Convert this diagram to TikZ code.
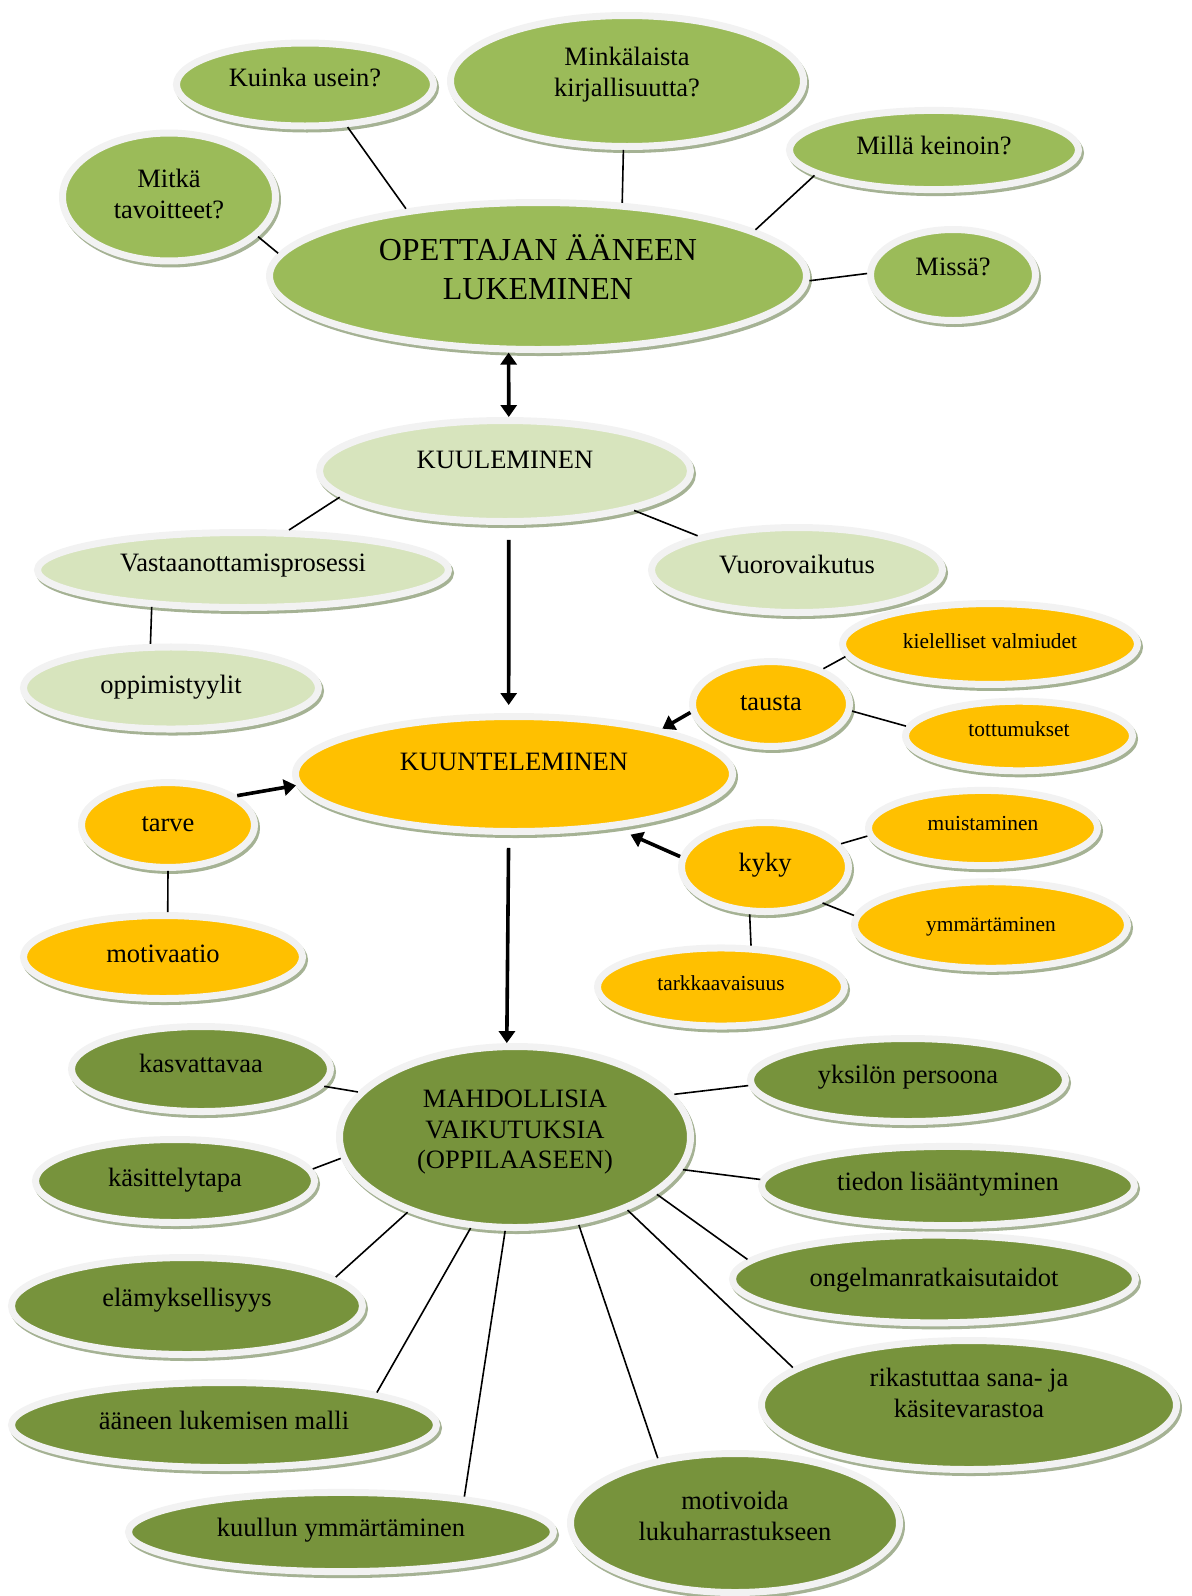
\documentclass[tikz,border=0pt]{standalone}
\usepackage{fontspec}
\setmainfont{Liberation Serif}
\usetikzlibrary{shapes.geometric, arrows.meta}
\definecolor{olivelt}{RGB}{155, 187, 89}
\definecolor{olivepale}{RGB}{215, 228, 189}
\definecolor{goldy}{RGB}{255, 192, 0}
\definecolor{olivedk}{RGB}{119, 147, 60}
\definecolor{rimgray}{RGB}{242, 242, 242}
\definecolor{shadegreen}{RGB}{165, 178, 148}

\tikzset{
  bubble/.style={ellipse, draw=rimgray, line width=3.5pt, inner sep=0pt, align=center,
    preaction={fill=shadegreen, draw=shadegreen, transform canvas={shift={(1pt,-1.5pt)}}}},
  rx/.style={minimum width=#1pt-3.5pt},
  ry/.style={minimum height=#1pt-3.5pt},
  lift/.style={text height=#1pt, text depth=12pt},
  topic/.style={bubble, fill=olivelt, font=\fontsize{16}{19.35}\selectfont},
  ask/.style={bubble, fill=olivelt, font=\fontsize{13.25}{15.25}\selectfont},
  hear/.style={bubble, fill=olivepale, font=\fontsize{13.25}{15.25}\selectfont},
  listen/.style={bubble, fill=goldy, font=\fontsize{13.25}{15.25}\selectfont},
  minor/.style={bubble, fill=goldy, font=\fontsize{10.7}{12.3}\selectfont},
  effect/.style={bubble, fill=olivedk, font=\fontsize{13.25}{15.25}\selectfont},
  link/.style={line width=0.8pt},
  arr/.style={line width=1.8pt, -{Triangle[length=6pt,width=8pt]}},
}

\begin{document}
\begin{tikzpicture}[x=0.5pt, y=-0.5pt]
\useasboundingbox (0,0) rectangle (1192,1596);

% Teacher reading aloud and its questions
\node[ask, rx=132, ry=45, lift=14] (kuinka) at (305,84.5) {Kuinka usein?};
\node[ask, rx=180, ry=69, lift=27.25] (kirjallisuus) at (627,81) {Minkälaista\\kirjallisuutta?};
\node[ask, rx=148, ry=43, lift=16] (keinot) at (934,150) {Millä keinoin?};
\node[ask, rx=110, ry=61, lift=33.25] (tavoitteet) at (169,197) {Mitkä\\tavoitteet?};
\node[topic, rx=272, ry=77, lift=35] (lukeminen) at (538,276) {OPETTAJAN ÄÄNEEN\\LUKEMINEN};
\node[ask, rx=86, ry=49, lift=12] (missa) at (953,275) {Missä?};

% Hearing
\node[hear, rx=189, ry=54, lift=9] (kuuleminen) at (505,471) {KUULEMINEN};
\node[hear, rx=209, ry=41, lift=13] (vastaanotto) at (243,570) {Vastaanottamisprosessi};
\node[hear, rx=149, ry=46, lift=15] (vuoro) at (797,570) {Vuorovaikutus};
\node[hear, rx=151, ry=44, lift=17] (tyylit) at (171,688) {oppimistyylit};

% Listening
\node[minor, rx=151, ry=37, lift=16.6] (kielelliset) at (990,644) {kielelliset valmiudet};
\node[listen, rx=82, ry=39, lift=18] (tausta) at (771,704) {tausta};
\node[minor, rx=117, ry=38, lift=12.6] (tottumukset) at (1019,736) {tottumukset};
\node[listen, rx=222, ry=61, lift=8] (kuunteleminen) at (514,774) {KUUNTELEMINEN};
\node[listen, rx=90, ry=42, lift=18] (tarve) at (168,825) {tarve};
\node[minor, rx=118, ry=39, lift=14.6] (muistaminen) at (983,828) {muistaminen};
\node[listen, rx=87, ry=48, lift=16] (kyky) at (765,867) {kyky};
\node[minor, rx=140, ry=37, lift=18.6] (ymmartaminen) at (991,925) {ymmärtäminen};
\node[listen, rx=143, ry=45, lift=17] (motivaatio) at (163,957) {motivaatio};
\node[minor, rx=127, ry=41, lift=15.6] (tarkkaavaisuus) at (721,987) {tarkkaavaisuus};

% Possible effects
\node[effect, rx=133, ry=46, lift=15] (kasvattavaa) at (201,1069) {kasvattavaa};
\node[effect, rx=179, ry=94, lift=43.5] (vaikutukset) at (515,1137) {MAHDOLLISIA\\VAIKUTUKSIA\\(OPPILAASEEN)};
\node[effect, rx=161, ry=45, lift=15] (persoona) at (908,1080) {yksilön persoona};
\node[effect, rx=143, ry=45, lift=17] (kasittely) at (175,1181) {käsittelytapa};
\node[effect, rx=190, ry=41, lift=16] (tieto) at (948,1186) {tiedon lisääntyminen};
\node[effect, rx=179, ry=52, lift=12] (elamys) at (187,1306) {elämyksellisyys};
\node[effect, rx=205, ry=39, lift=19] (ongelma) at (934,1279) {ongelmanratkaisutaidot};
\node[effect, rx=211, ry=68, lift=24.25] (sanasto) at (969,1405) {rikastuttaa sana- ja\\käsitevarastoa};
\node[effect, rx=216, ry=46, lift=16] (malli) at (224,1425) {ääneen lukemisen malli};
\node[effect, rx=216, ry=41, lift=16] (kuullun) at (341,1532) {kuullun ymmärtäminen};
\node[effect, rx=168, ry=73, lift=29.25] (harrastus) at (735,1523) {motivoida\\lukuharrastukseen};

% Plain links
\foreach \a/\b in {kuinka.-45/lukeminen.153, kirjallisuus.-93/lukeminen.41,
    keinot.-168/lukeminen.12, tavoitteet.-24/lukeminen.175, missa.179/lukeminen.-1,
    kuuleminen.-171/vastaanotto.41, kuuleminen.-17/vuoro.161, vastaanotto.-158/tyylit.115,
    tausta.34/kielelliset.-175, tausta.-5/tottumukset.175, tarve.-90/motivaatio.84,
    kyky.17/muistaminen.-176, kyky.-32/ymmartaminen.176, kyky.-108/tarkkaavaisuus.54,
    vaikutukset.164/kasvattavaa.-8, vaikutukset.15/persoona.-178, vaikutukset.-173/kasittely.5,
    vaikutukset.-11/tieto.178, vaikutukset.-145/elamys.11, vaikutukset.-22/ongelma.174,
    vaikutukset.-33/sanasto.168, vaikutukset.-116/malli.12, vaikutukset.-96/kuullun.16,
    vaikutukset.-54/harrastus.140} {
    \draw[link] (\a) -- (\b);
}

% Arrows
\draw[arr, {Triangle[length=6pt,width=8pt]}-{Triangle[length=6pt,width=8pt]}] (lukeminen.-111) -- (kuuleminen.86);
\draw[arr, shorten <=7.5pt, shorten >=4pt] (kuuleminen.-86) -- (kuunteleminen.95);
\draw[arr] (tausta.-174) -- (kuunteleminen.17);
\draw[arr] (tarve.23) -- (kuunteleminen.-177);
\draw[arr, shorten >=8pt] (kyky.173) -- (kuunteleminen.-28);
\draw[arr, shorten <=6.5pt] (kuunteleminen.-95) -- (vaikutukset.95);
\end{tikzpicture}
\end{document}
